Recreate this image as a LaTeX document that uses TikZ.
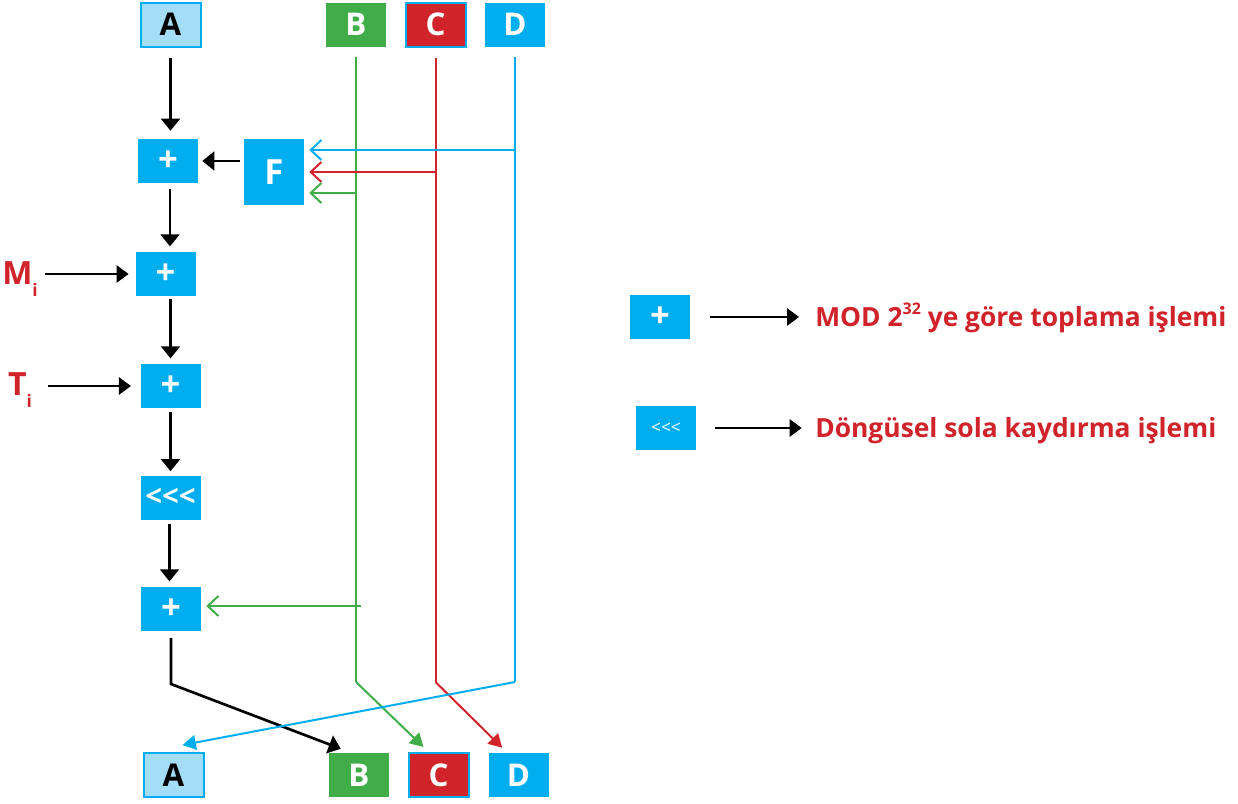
\documentclass[tikz,border=0pt]{standalone}
\usepackage{fontspec}
\setmainfont{Open Sans}
\usetikzlibrary{arrows.meta,calc}
\definecolor{sky}{HTML}{00AEEF}
\definecolor{pale}{HTML}{A3DDF8}
\definecolor{leaf}{HTML}{41AD49}
\definecolor{brick}{HTML}{D1232A}
\newcommand{\rotl}{{<}{<}{<}}
\begin{document}
\begin{tikzpicture}[x=0.75pt,y=-0.75pt,
  box/.style={minimum width=45pt, minimum height=33pt, inner sep=0pt,
    fill=sky, text=white, font=\bfseries\fontsize{23.5}{23.5}\selectfont},
  opbox/.style={box, font=\bfseries\fontsize{26}{26}\selectfont},
  framed/.style={draw=sky, line width=1.5pt},
  blk/.style={line width=2pt, -{Triangle[length=9pt,width=14pt]}},
  thin/.style={line width=1.5pt, -{Triangle[length=9pt,width=13pt]}},
  barb/.style={line width=1.5pt, -{Straight Barb[length=8pt,width=15pt,line width=1.5pt]}},
  tri/.style={line width=1.5pt, -{Triangle[length=10pt,width=11pt]}},
  lab/.style={text=brick, font=\bfseries\fontsize{24}{24}\selectfont, inner sep=0pt},
  legtxt/.style={text=brick, font=\bfseries\fontsize{19.8}{19.8}\selectfont, inner sep=0pt, anchor=west}
]
\useasboundingbox (0,0) rectangle (1238,803);

% input words
\node[box, fill=pale, text=black, framed] (At) at (170.5,24.5) {A};
\node[box, fill=leaf] (Bt) at (356,24.5) {B};
\node[box, fill=brick, framed] (Ct) at (435.5,24.5) {C};
\node[box] (Dt) at (515,24.5) {D};

% round function
\node[opbox] (p1) at (168,161) {+};
\node[box, minimum height=49.5pt, font=\bfseries\fontsize{26}{26}\selectfont] (F) at (274,172) {F};
\node[opbox] (p2) at (165.5,274) {+};
\node[opbox] (p3) at (170.5,386) {+};
\node[box, font=\bfseries\fontsize{22}{22}\selectfont] (rot) at (170.5,497.5) {\rotl};
\node[opbox] (p4) at (171,609) {+};

\node[lab] (mi) at (20,279) {M\raisebox{-0.35em}{\fontsize{13}{13}\selectfont i}};
\node[lab] (ti) at (20,390) {T\raisebox{-0.35em}{\fontsize{13}{13}\selectfont i}};

% output words
\node[box, fill=pale, text=black, framed] (Ab) at (173.5,775) {A};
\node[box, fill=leaf] (Bb) at (359,775) {B};
\node[box, fill=brick, framed] (Cb) at (438.5,775) {C};
\node[box] (Db) at (518.5,775) {D};

% bends of the word lines
\coordinate (bB) at (Bt |- 0,682);
\coordinate (bC) at (Ct |- 0,682);
\coordinate (bD) at (Dt |- 0,682);
\coordinate (bA) at (p4 |- 0,684);

% columns of the vertical links
\coordinate (c1) at ($(p1.south)+(2,0)$);
\coordinate (c5) at ($(rot.south)+(-1,0)$);

% main chain
\draw[blk, shorten <=7.5pt, shorten >=6pt] (At.south) -- (At.south |- p1.north);
\draw[blk, shorten <=3pt, shorten >=3pt] (F.west |- p1) -- (p1.east);
\draw[blk, shorten <=4pt, shorten >=4pt] (c1) -- (c1 |- p2.north);
\draw[blk, shorten <=2pt, shorten >=4pt] (p2.south -| p3) -- (p3.north);
\draw[blk, shorten <=3pt, shorten >=3pt] (p3.south) -- (rot.north);
\draw[blk, shorten <=3pt, shorten >=4pt] (c5) -- (c5 |- p4.north);
\draw[thin, shorten >=5pt] ($(mi.east |- p2)+(7,0)$) -- (p2.west);
\draw[thin, shorten >=7pt] ($(ti.east |- p3)+(16,0)$) -- (p3.west);

% B, C, D feed F
\draw[line width=1.5pt, sky] ([yshift=-7.5pt]Dt.south) -- (bD);
\draw[line width=1.5pt, brick] ([yshift=-7.5pt]Ct.south) -- (bC);
\draw[line width=1.5pt, leaf] ([yshift=-7.5pt]Bt.south) -- (bB);
\draw[barb, sky] (Dt |- 0,150) -- ($(F.east |- 0,150)+(5,0)$);
\draw[barb, brick] (Ct |- 0,172) -- ($(F.east |- 0,172)+(5,0)$);
\draw[barb, leaf] (Bt |- 0,193) -- ($(F.east |- 0,193)+(5,0)$);
\draw[barb, leaf] ($(Bt |- 0,606)+(5,0)$) -- ($(p4.east |- 0,606)+(5,0)$);

% word permutation
\draw[blk, shorten <=5pt] (p4.south) -- (bA) -- ($(Bb.north west)+(12,-4)$);
\draw[tri, leaf] (bB) -- ($(Cb.north west)+(16,-5)$);
\draw[tri, brick] (bC) -- ($(Db.north west)+(14,-5)$);
\draw[tri, sky] (bD) -- ($(Ab.north)+(9,-7)$);

% legend
\node[opbox] (lp) at (660,317) {+};
\node[box, font=\fontsize{13}{13}\selectfont] (lr) at (666,428) {\rotl};
\node[legtxt] (lpt) at (815,318) {MOD 2\raisebox{0.45em}{\fontsize{12}{12}\selectfont 32} ye göre toplama işlemi};
\node[legtxt] (lrt) at (815,431) {Döngüsel sola kaydırma işlemi};
\draw[thin, shorten <=15pt, shorten >=12pt] (lp.east) -- (lp.east -| lpt.west);
\draw[thin, shorten <=14pt, shorten >=10pt] (lr.east) -- (lr.east -| lrt.west);
\end{tikzpicture}
\end{document}
